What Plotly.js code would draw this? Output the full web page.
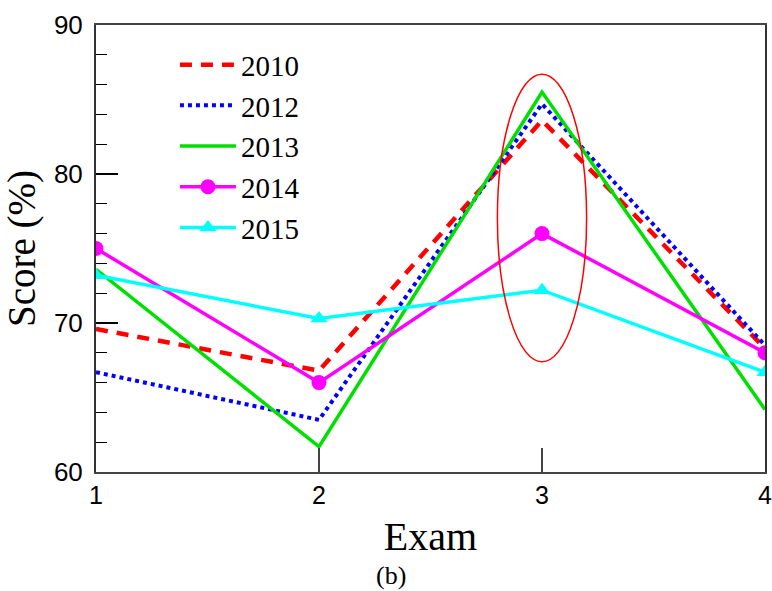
<!DOCTYPE html>
<html>
<head>
<meta charset="utf-8">
<script src="https://cdn.plot.ly/plotly-3.0.1.min.js"></script>
<style>html,body{margin:0;padding:0;background:#fff;}#chart{width:772px;height:591px;}</style>
</head>
<body>
<div id="chart"></div>
<script>
const exams = [1, 2, 3, 4];
const s2010 = [69.6, 66.8, 83.6, 68.3];
const s2012 = [66.7, 63.5, 84.7, 68.5];
const s2013 = [73.6, 61.7, 85.5, 64.2];
const s2014 = [75.0, 66.0, 76.0, 68.0];
const s2015 = [73.2, 70.3, 72.2, 66.7];
const seriesNames = ["2010", "2012", "2013", "2014", "2015"];
const xTickVals = [1, 2, 3, 4];
const yTickVals = [60, 70, 80, 90];

const serif = "Liberation Serif, Times New Roman, serif";
const sans = "Liberation Sans, Arial, sans-serif";

const traces = [
  {x: exams, y: s2010, name: seriesNames[0], mode: "lines",
   line: {color: "#ff0000", width: 4.5, dash: "12px,9px"}},
  {x: exams, y: s2012, name: seriesNames[1], mode: "lines",
   line: {color: "#0000ff", width: 4, dash: "4px,4px"}},
  {x: exams, y: s2013, name: seriesNames[2], mode: "lines",
   line: {color: "#00e000", width: 3.5}},
  {x: exams, y: s2014, name: seriesNames[3], mode: "lines+markers",
   line: {color: "#ff00ff", width: 3.5},
   marker: {symbol: "circle", size: 15, color: "#ff00ff"}},
  {x: exams, y: s2015, name: seriesNames[4], mode: "lines+markers",
   line: {color: "#00ffff", width: 3.5},
   marker: {symbol: "triangle-up", size: 15, color: "#00ffff"}}
];

const layout = {
  width: 772, height: 591,
  margin: {l: 96, r: 7, t: 25, b: 119},
  paper_bgcolor: "#fff", plot_bgcolor: "#fff",
  showlegend: true,
  legend: {x: 0.118, y: 0.968, xanchor: "left", yanchor: "top",
           bgcolor: "rgba(0,0,0,0)", font: {family: serif, size: 29, color: "#000"},
           itemwidth: 56, tracegroupgap: 0},
  xaxis: {range: [1, 4], tickvals: xTickVals, ticktext: xTickVals.map(String),
          ticks: "inside", ticklen: 24, tickwidth: 1.2, tickcolor: "#444",
          showline: true, linecolor: "#444", linewidth: 2, mirror: true,
          showgrid: false, zeroline: false, ticklabeloverflow: "allow",
          tickfont: {family: sans, size: 25, color: "#000"},
          title: {text: "Exam", font: {family: serif, size: 40, color: "#000"}, standoff: 14}},
  yaxis: {range: [60, 90], tickvals: yTickVals, ticktext: yTickVals.map(String),
          ticks: "inside", ticklen: 22, tickwidth: 1.2, tickcolor: "#000",
          minor: {dtick: 2, ticks: "inside", ticklen: 11, tickwidth: 1.2, tickcolor: "#000"},
          showline: true, linecolor: "#333", linewidth: 2, mirror: true,
          showgrid: false, zeroline: false, ticklabelstandoff: 6,
          tickfont: {family: sans, size: 26, color: "#000"},
          title: {text: "Score (%)", font: {family: serif, size: 39, color: "#000"}, standoff: 10}},
  shapes: [
    {type: "circle", xref: "x", yref: "y", x0: 2.8, x1: 3.2, y0: 67.4, y1: 86.7,
     line: {color: "#ff0000", width: 1.5}}
  ],
  annotations: [
    {text: "(b)", xref: "paper", yref: "paper", x: 0.441, y: -0.232, xanchor: "center", yanchor: "middle",
     showarrow: false, font: {family: serif, size: 26, color: "#000"}}
  ]
};

Plotly.newPlot("chart", traces, layout, {displayModeBar: false, staticPlot: true});
</script>
</body>
</html>
